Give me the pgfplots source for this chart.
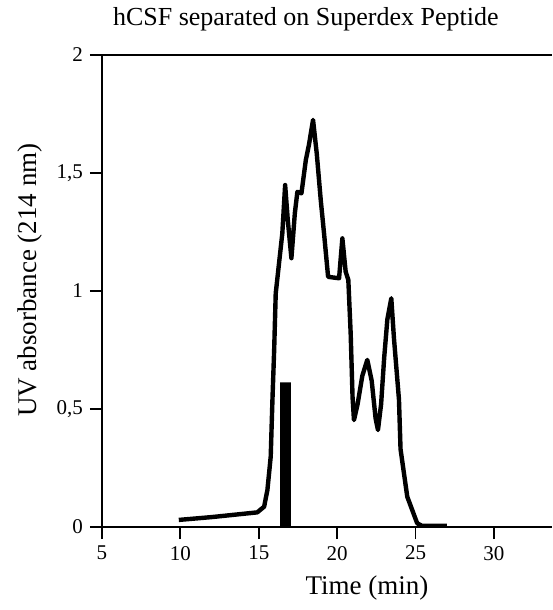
\documentclass[border=0pt]{standalone}
\usepackage{fontspec}
\setmainfont{Liberation Serif}
\usepackage{pgfplots}
\pgfplotsset{compat=1.18}

\begin{document}
\begin{tikzpicture}
\begin{axis}[
 scale only axis,
 width=225pt, height=236pt,
 xmin=5, xmax=33.7, ymin=0, ymax=2,
 clip mode=individual,
 axis x line=box, axis y line=left,
 axis line style={-, line width=0.9pt},
 xtick pos=bottom, ytick pos=left,
 xtick={5,10,15,20,25,30},
 ytick={0,0.5,1,1.5,2},
 yticklabels={0,{0,5},1,{1,5},2},
 tick align=outside,
 major tick length=6pt,
 tick style={line width=0.9pt, black},
 ticklabel style={font=\fontsize{10.5}{12}\selectfont},
 /pgf/number format/assume math mode=true,
 xlabel={Time (min)},
 xlabel style={at={(axis description cs:0.589,-0.129)}, anchor=center, font=\fontsize{13.5}{16}\selectfont},
 ylabel={UV absorbance (214 nm)},
 ylabel style={at={(axis description cs:-0.16,0.523)}, anchor=center, font=\fontsize{13.5}{16}\selectfont},
]

% fraction collected
\addplot[fill=black, draw=none] coordinates {(16.36,0) (16.36,0.613) (17.04,0.613) (17.04,0)} \closedcycle;

% UV trace
\addplot[black, line width=2.2pt, line join=round] coordinates {
 (9.9,0.030) (12,0.042) (14.9,0.062) (15.34,0.086) (15.55,0.157)
 (15.76,0.298) (15.87,0.538) (15.98,0.75) (16.08,0.99) (16.29,1.117)
 (16.5,1.244) (16.61,1.37) (16.68,1.449) (16.85,1.30) (17.08,1.139)
 (17.3,1.33) (17.46,1.42) (17.72,1.414) (18.0,1.555) (18.2,1.62)
 (18.46,1.725) (18.7,1.58) (18.95,1.386) (19.16,1.245) (19.42,1.06)
 (20.12,1.054) (20.33,1.223) (20.54,1.082) (20.71,1.047) (20.86,0.82)
 (20.98,0.55) (21.07,0.453) (21.3,0.52) (21.6,0.64) (21.92,0.708)
 (22.2,0.62) (22.45,0.46) (22.6,0.411) (22.8,0.52) (23.0,0.72)
 (23.2,0.88) (23.45,0.969) (23.62,0.80) (23.94,0.54) (24.04,0.33)
 (24.47,0.128) (25.1,0.016) (25.4,0.005) (27,0.005)
};

\node[anchor=center, font=\fontsize{13}{15}\selectfont] at (axis description cs:0.453,1.076) {hCSF separated on Superdex Peptide};
\end{axis}
\path (current axis.south west) ++(-51pt,-41.5pt) coordinate (bl);
\path (current axis.north east) ++(0pt,27.5pt) coordinate (tr);
\pgfresetboundingbox
\useasboundingbox (bl) rectangle (tr);
\end{tikzpicture}
\end{document}
